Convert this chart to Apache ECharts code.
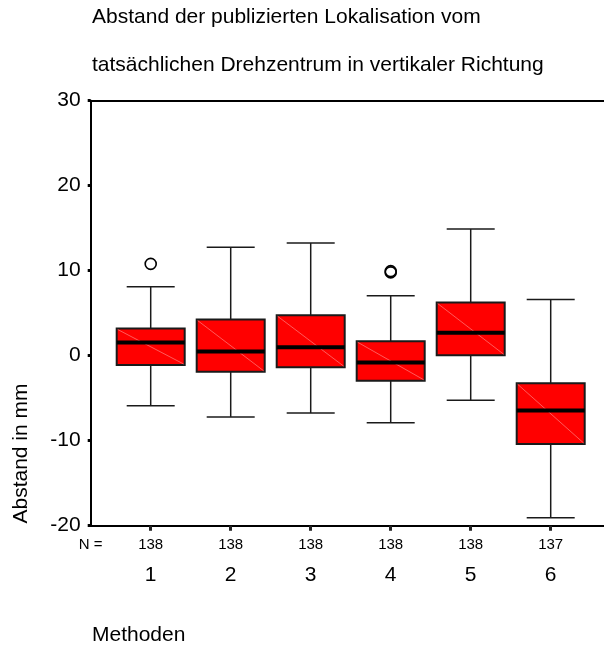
<!DOCTYPE html>
<html>
<head>
<meta charset="utf-8">
<title>Abstand der publizierten Lokalisation</title>
<script src="https://cdn.jsdelivr.net/npm/echarts@6/dist/echarts.min.js"></script>
<style>
  html, body { margin: 0; padding: 0; background: #fff; }
  #chart { width: 604px; height: 648px; }
</style>
</head>
<body>
<div id="chart"></div>
<script>
// Methods and case counts
const methods = ['1', '2', '3', '4', '5', '6'];
const nCases = [138, 138, 138, 138, 138, 137];

// Box plot statistics per method (mm)
const whiskerLow  = [-5.9, -7.2, -6.75, -7.9, -5.25, -19.05];
const quartile1   = [-1.1, -1.9, -1.35, -2.95, 0.05, -10.4];
const medians     = [1.55, 0.5, 1.0, -0.8, 2.7, -6.45];
const quartile3   = [3.2, 4.25, 4.75, 1.7, 6.25, -3.25];
const whiskerHigh = [8.1, 12.75, 13.25, 7.05, 14.9, 6.6];

// Outliers: method index and value
const outlierMethod = [0, 3, 3];
const outlierValue  = [10.8, 9.8, 9.95];

// Y axis range
const yMin = -20, yMax = 30, yStep = 10;

const FONT = '"Liberation Sans", Arial, Helvetica, sans-serif';

const boxData = methods.map((m, i) => [i, whiskerLow[i], quartile1[i], medians[i], quartile3[i], whiskerHigh[i]]);
const outlierData = outlierMethod.map((m, i) => [m, outlierValue[i]]);

function renderBox(params, api) {
  const idx = api.value(0);
  const pLow = api.coord([idx, api.value(1)]);
  const pQ1 = api.coord([idx, api.value(2)]);
  const pMed = api.coord([idx, api.value(3)]);
  const pQ3 = api.coord([idx, api.value(4)]);
  const pHigh = api.coord([idx, api.value(5)]);
  const band = api.size([1, 0])[0];
  const boxW = band * 0.85;
  const capW = band * 0.6;
  const cx = pMed[0];
  const lineStyle = { stroke: '#1a1a1a', lineWidth: 1.5 };
  return {
    type: 'group',
    children: [
      { type: 'line', shape: { x1: cx, y1: pLow[1], x2: cx, y2: pHigh[1] }, style: lineStyle },
      { type: 'line', shape: { x1: cx - capW / 2, y1: pLow[1], x2: cx + capW / 2, y2: pLow[1] }, style: lineStyle },
      { type: 'line', shape: { x1: cx - capW / 2, y1: pHigh[1], x2: cx + capW / 2, y2: pHigh[1] }, style: lineStyle },
      { type: 'rect', shape: { x: cx - boxW / 2, y: pQ3[1], width: boxW, height: pQ1[1] - pQ3[1] },
        style: { fill: '#ff0000', stroke: '#1a1a1a', lineWidth: 2 } },
      { type: 'line', shape: { x1: cx - boxW / 2 + 1, y1: pQ3[1] + 1, x2: cx + boxW / 2 - 1, y2: pQ1[1] - 1 },
        style: { stroke: 'rgba(255,190,190,0.8)', lineWidth: 0.6 } },
      { type: 'line', shape: { x1: cx - boxW / 2, y1: pMed[1], x2: cx + boxW / 2, y2: pMed[1] },
        style: { stroke: '#000', lineWidth: 4 } }
    ]
  };
}

const chart = echarts.init(document.getElementById('chart'), null, { renderer: 'canvas' });

const gridTop = 100.7, gridBottom = 122.3;

chart.setOption({
  animation: false,
  backgroundColor: '#fff',
  grid: [
    { left: 90.7, right: 0, top: gridTop, bottom: gridBottom },
    { left: 110.7, width: 480, top: gridTop, bottom: gridBottom }
  ],
  xAxis: [
    {
      gridIndex: 0, type: 'value', min: 0, max: 1, position: 'bottom',
      axisLine: { show: true, onZero: false, lineStyle: { color: '#000', width: 2 } },
      axisTick: { show: false }, axisLabel: { show: false }, splitLine: { show: false }
    },
    {
      gridIndex: 0, type: 'value', min: 0, max: 1, position: 'top',
      axisLine: { show: true, onZero: false, lineStyle: { color: '#000', width: 2 } },
      axisTick: { show: false }, axisLabel: { show: false }, splitLine: { show: false }
    },
    {
      gridIndex: 1, type: 'category', data: methods, position: 'bottom',
      axisLine: { show: false, onZero: false },
      axisTick: { show: true, alignWithLabel: true, length: 5, lineStyle: { color: '#222', width: 3 } },
      axisLabel: {
        margin: 8.3,
        formatter: (v, i) => '{n|' + nCases[i] + '}\n{c|' + v + '}',
        rich: {
          n: { fontSize: 15, lineHeight: 22, fontFamily: FONT, color: '#000' },
          c: { fontSize: 21, lineHeight: 39, fontFamily: FONT, color: '#000' }
        }
      },
      splitLine: { show: false }
    }
  ],
  yAxis: [
    {
      gridIndex: 0, type: 'value', min: yMin, max: yMax, interval: yStep,
      axisLine: { show: true, lineStyle: { color: '#000', width: 2 } },
      axisTick: { show: true, length: 3, lineStyle: { color: '#000', width: 3 } },
      axisLabel: { margin: 10, fontSize: 21, fontFamily: FONT, color: '#000' },
      splitLine: { show: false }
    },
    {
      gridIndex: 1, type: 'value', min: yMin, max: yMax, interval: yStep,
      show: false
    }
  ],
  series: [
    {
      type: 'custom',
      xAxisIndex: 2, yAxisIndex: 1,
      renderItem: renderBox,
      encode: { x: 0, y: [1, 2, 3, 4, 5] },
      data: boxData,
      z: 2
    },
    {
      type: 'scatter',
      xAxisIndex: 2, yAxisIndex: 1,
      symbol: 'circle', symbolSize: 11,
      itemStyle: { color: 'rgba(255,255,255,0)', borderColor: '#000', borderWidth: 1.6, opacity: 1 },
      emphasis: { disabled: true },
      data: outlierData,
      z: 3
    }
  ],
  graphic: [
    { type: 'text', x: 92, y: 17, style: { text: 'Abstand der publizierten Lokalisation vom', font: '21px ' + FONT, fill: '#000', textAlign: 'left', textVerticalAlign: 'middle' } },
    { type: 'text', x: 92, y: 65.3, style: { text: 'tatsächlichen Drehzentrum in vertikaler Richtung', font: '21px ' + FONT, fill: '#000', textAlign: 'left', textVerticalAlign: 'middle' } },
    { type: 'text', x: 21.5, y: 453.5, rotation: Math.PI / 2, style: { text: 'Abstand in mm', font: '21px ' + FONT, fill: '#000', textAlign: 'center', textVerticalAlign: 'middle' } },
    { type: 'text', x: 90.7, y: 545, style: { text: 'N =', font: '15px ' + FONT, fill: '#000', textAlign: 'center', textVerticalAlign: 'middle' } },
    { type: 'text', x: 92, y: 635.5, style: { text: 'Methoden', font: '21px ' + FONT, fill: '#000', textAlign: 'left', textVerticalAlign: 'middle' } }
  ]
});
</script>
</body>
</html>
